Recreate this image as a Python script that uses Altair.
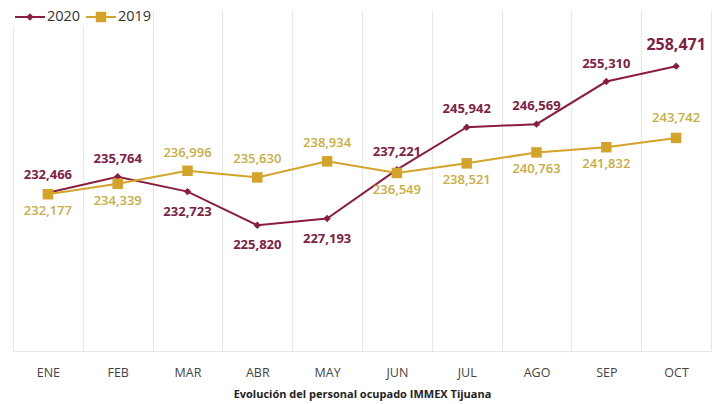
import altair as alt
import pandas as pd

months = ["ENE", "FEB", "MAR", "ABR", "MAY", "JUN", "JUL", "AGO", "SEP", "OCT"]
values_2020 = [232466, 235764, 232723, 225820, 227193, 237221, 245942, 246569, 255310, 258471]
values_2019 = [232177, 234339, 236996, 235630, 238934, 236549, 238521, 240763, 241832, 243742]
place_2020 = ["above", "above", "below", "below", "below", "above", "above", "above", "above", "above"]
place_2019 = ["below", "below", "above", "above", "above", "below", "below", "below", "below", "above"]
series_names = ["2020", "2019"]
title_text = "Evolución del personal ocupado IMMEX Tijuana"

C2020 = "#8B1E3F"
C2019 = "#D4A32A"
T2020 = "#7D2148"
T2019 = "#C9AC42"
FONT = "Open Sans"

rows = []
for s, vals, pl in [("2020", values_2020, place_2020), ("2019", values_2019, place_2019)]:
    for i, (m, v, p) in enumerate(zip(months, vals, pl)):
        rows.append({"mes": m, "serie": s, "valor": v, "pos": p,
                     "label": f"{v:,}", "last": i == len(months) - 1})
df = pd.DataFrame(rows)
one = pd.DataFrame({"k": [0]})

W, H = 698, 341

x = alt.X("mes:N", sort=months,
          scale=alt.Scale(type="band", paddingInner=0, paddingOuter=0),
          axis=alt.Axis(title=title_text, titleFont=FONT, titleFontSize=11, titleFontWeight="bold",
                        titleColor="#222222", titlePadding=10,
                        labelFont=FONT, labelFontSize=12.5, labelColor="#444444", labelPadding=15,
                        labelAngle=0, ticks=False, grid=True, tickBand="extent",
                        gridColor="#e8e8e8", gridWidth=1.2, domainColor="#e8e8e8", domainWidth=1.2))
y = alt.Y("valor:Q", scale=alt.Scale(domain=[200000, 270000], zero=False, nice=False), axis=None)

base = alt.Chart(df).encode(x=x, y=y)

line = base.mark_line(strokeWidth=2).encode(
    color=alt.Color("serie:N", scale=alt.Scale(domain=series_names, range=[C2020, C2019]), legend=None),
    detail="serie:N")

pts20 = base.transform_filter(alt.datum.serie == "2020").mark_point(
    shape="diamond", filled=True, size=55, color=C2020, opacity=1)
pts19 = base.transform_filter(alt.datum.serie == "2019").mark_square(
    size=110, color=C2019, opacity=1)

def labels(serie, pos, color, dy, weight):
    return base.transform_filter(
        (alt.datum.serie == serie) & (alt.datum.pos == pos) & (alt.datum["last"] == False)
    ).mark_text(font=FONT, fontSize=13, fontWeight=weight, color=color, dy=dy).encode(text="label:N")

lab = [
    labels("2020", "above", T2020, -18, "bold"),
    labels("2020", "below", T2020, 20, "bold"),
    labels("2019", "above", T2019, -18, 600),
    labels("2019", "below", T2019, 17, 600),
]
last20 = base.transform_filter((alt.datum.serie == "2020") & (alt.datum["last"] == True)).mark_text(
    font=FONT, fontSize=16, fontWeight="bold", color=T2020, dy=-21).encode(text="label:N")
last19 = base.transform_filter((alt.datum.serie == "2019") & (alt.datum["last"] == True)).mark_text(
    font=FONT, fontSize=13, fontWeight=600, color=T2019, dy=-20).encode(text="label:N")

# manual legend (one datum each)
leg = alt.Chart(one)
leg_bg = leg.mark_rect(color="white").encode(
    x=alt.value(0), x2=alt.value(140), y=alt.value(-8), y2=alt.value(16))
leg_line20 = leg.mark_rule(color=C2020, strokeWidth=2).encode(
    x=alt.value(2), x2=alt.value(32), y=alt.value(7))
leg_pt20 = leg.mark_point(shape="diamond", filled=True, size=55, color=C2020, opacity=1).encode(
    x=alt.value(17), y=alt.value(7))
leg_tx20 = leg.mark_text(font=FONT, fontSize=14.5, fontWeight="normal", color="#333333",
                         align="left", baseline="middle").encode(
    x=alt.value(34), y=alt.value(7), text=alt.value("2020"))
leg_line19 = leg.mark_rule(color=C2019, strokeWidth=2).encode(
    x=alt.value(73), x2=alt.value(103), y=alt.value(7))
leg_pt19 = leg.mark_square(size=110, color=C2019, opacity=1).encode(
    x=alt.value(88), y=alt.value(7))
leg_tx19 = leg.mark_text(font=FONT, fontSize=14.5, fontWeight="normal", color="#333333",
                         align="left", baseline="middle").encode(
    x=alt.value(105), y=alt.value(7), text=alt.value("2019"))

chart = alt.layer(
    line, pts20, pts19, *lab, last20, last19,
    leg_bg, leg_line20, leg_pt20, leg_tx20, leg_line19, leg_pt19, leg_tx19
).properties(
    width=W, height=H,
    autosize=alt.AutoSizeParams(type="none"),
    padding={"left": 13, "top": 10, "right": 6, "bottom": 53},
    background="white",
).configure_view(stroke=None)

chart.save("out.html", embed_options={"renderer": "svg", "actions": False})
